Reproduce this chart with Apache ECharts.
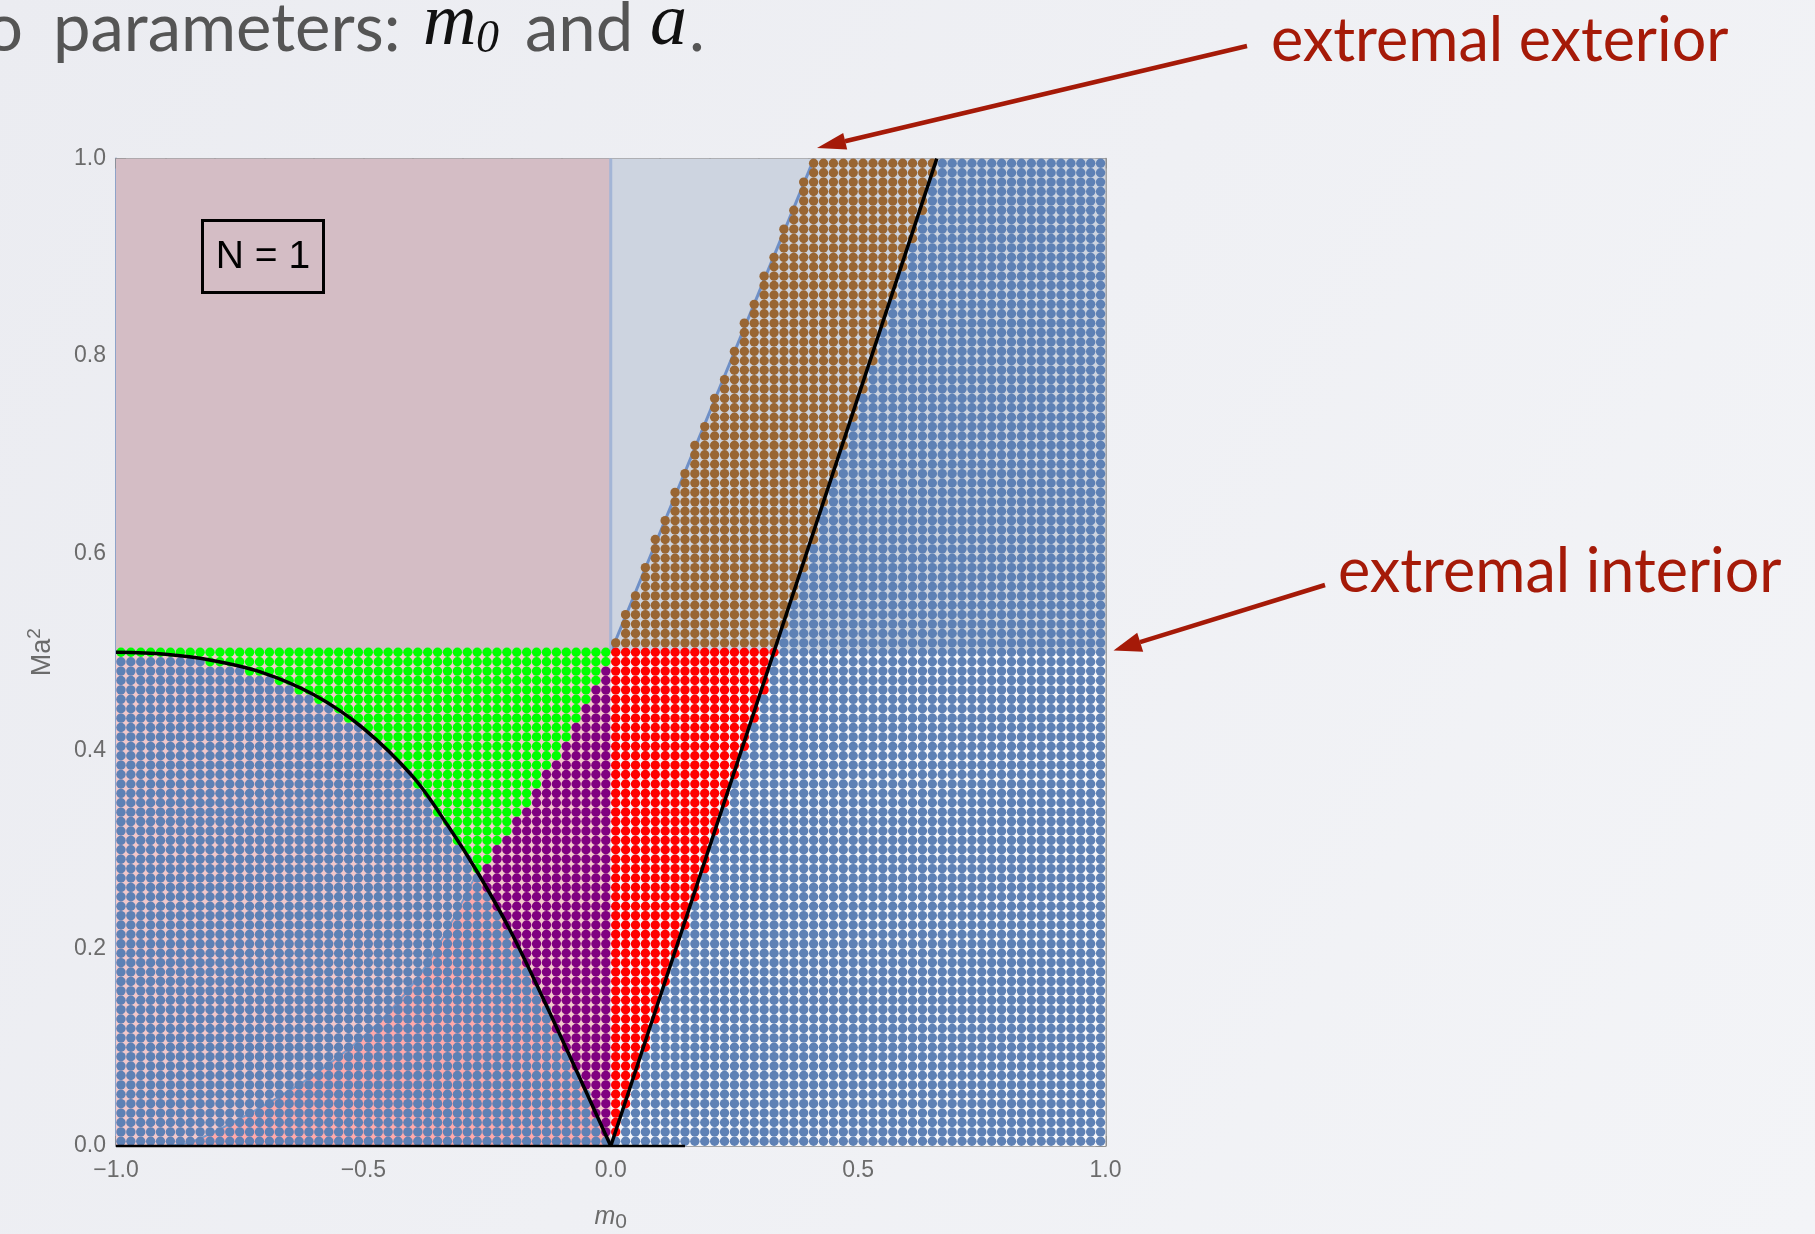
<!DOCTYPE html>
<html>
<head>
<meta charset="utf-8">
<script src="https://cdn.jsdelivr.net/npm/echarts/dist/echarts.min.js"></script>
<style>
  html, body { margin: 0; padding: 0; }
  body { width: 1815px; height: 1234px; background: linear-gradient(120deg, #EBECF1 0%, #EFF0F4 50%, #F3F4F7 100%); overflow: hidden; }
  #chart { width: 1815px; height: 1234px; }
</style>
</head>
<body>
<div id="chart"></div>
<script>
// ---------- tick labels ----------
const xTickValues = [-1, -0.5, 0, 0.5, 1];
const xTickLabels = ['\u22121.0', '\u22120.5', '0.0', '0.5', '1.0'];
const yTickValues = [0, 0.2, 0.4, 0.6, 0.8, 1.0];
const yTickLabels = ['0.0', '0.2', '0.4', '0.6', '0.8', '1.0'];

// ---------- sampling grid (cell-centred) ----------
const nCols = 100;   // m0 samples over [-1, 1]
const nRows = 105;   // Ma^2 samples over [0, 1]

// ---------- boundaries ----------
// black curve on the left (m0, Ma^2)
const curveLeft = [[-1, 0.5], [-0.9, 0.498], [-0.808, 0.492], [-0.707, 0.48], [-0.6, 0.457], [-0.5, 0.423],
  [-0.4, 0.374], [-0.33, 0.325], [-0.269, 0.277], [-0.205, 0.22], [-0.14, 0.153],
  [-0.07, 0.077], [0, 0]];
// black straight line on the right
const lineRight = [[0, 0], [0.659, 1.0]];
// light-blue edge of the empty wedge
const wedgeEdge = [[0, 0.5], [0.411, 1.0]];
// green / purple staircase edge
const purpleEdge = [[-0.27, 0.273], [-0.195, 0.325], [-0.115, 0.39], [0, 0.5]];
// edge of the salmon shading, lower left
const salmonEdge = [[-0.9, 0], [-0.848, 0.004], [-0.741, 0.03], [-0.606, 0.07], [-0.471, 0.124], [-0.37, 0.185], [-0.276, 0.271]];
// short dark segment on the bottom frame
const baseSegment = [[-1, 0], [0.15, 0]];
const zeroEdge = [[0, 0.5], [0, 1]];

// ---------- helpers ----------
function interp(pts, v, byIdx, outIdx) {
  const s = pts.slice().sort((a, b) => a[byIdx] - b[byIdx]);
  if (v <= s[0][byIdx]) return s[0][outIdx];
  if (v >= s[s.length - 1][byIdx]) return s[s.length - 1][outIdx];
  for (let i = 0; i < s.length - 1; i++) {
    const a = s[i], b = s[i + 1];
    if (v >= a[byIdx] && v <= b[byIdx]) {
      const t = (v - a[byIdx]) / (b[byIdx] - a[byIdx] || 1);
      return a[outIdx] + t * (b[outIdx] - a[outIdx]);
    }
  }
  return s[0][outIdx];
}
const curveY = x => interp(curveLeft, x, 0, 1);
const rightX = y => interp(lineRight, y, 1, 0);
const wedgeX = y => interp(wedgeEdge, y, 1, 0);
const purpleX = y => (y < purpleEdge[0][1] ? -Infinity : interp(purpleEdge, y, 1, 0));

const blueDots = [], greenDots = [], purpleDots = [], redDots = [], brownDots = [];
for (let j = 0; j < nCols; j++) {
  const x = +(-1 + (j + 0.5) * (2 / nCols)).toFixed(4);
  for (let k = 0; k < nRows; k++) {
    const y = +((k + 0.5) / nRows).toFixed(5);
    if (x < 0) {
      if (y > 0.5 + 1e-9) continue;
      if (y < curveY(x) - 0.002) blueDots.push([x, y]);
      else if (y < 0.5 - 1e-9 && x >= purpleX(y)) purpleDots.push([x, y]);
      else greenDots.push([x, y]);
    } else {
      if (y <= 0.5 + 1e-9) {
        if (x <= rightX(y) + 0.006) redDots.push([x, y]);
        else blueDots.push([x, y]);
      } else {
        if (x < wedgeX(y) - 0.004) continue;
        if (x <= rightX(y) + 0.006) brownDots.push([x, y]);
        else blueDots.push([x, y]);
      }
    }
  }
}

// ---------- background shading regions ----------
const regionUpperLeft = [[-1, 0.5], [0, 0.5], [0, 1], [-1, 1]];
const regionUpperRight = [[0, 0.5], [1, 0.5], [1, 1], [0, 1]];
const regionLowerLeft = [[-1, 0], [0, 0], [0, 0.5], [-1, 0.5]];
const regionLowerRight = [[0, 0], [1, 0], [1, 0.5], [0, 0.5]];
const regionSalmon = salmonEdge.concat(curveLeft.filter(p => p[0] > -0.272));

function polySeries(pts, color, z) {
  return {
    type: 'custom', silent: true, z: z, clip: true, animation: false,
    data: [[0, 0]],
    renderItem: (params, api) => ({
      type: 'polygon',
      shape: { points: pts.map(p => api.coord(p)) },
      style: { fill: color }
    })
  };
}
function lineSeries(data, color, width, z, smooth, clip) {
  return {
    type: 'line', data: data, z: z, silent: true, showSymbol: false, symbol: 'none',
    smooth: smooth || false, clip: clip !== false, animation: false,
    lineStyle: { color: color, width: width }
  };
}
function dotSeries(data, color) {
  return {
    type: 'scatter', data: data, z: 3, silent: true, symbol: 'circle', symbolSize: 9.4,
    itemStyle: { color: color, opacity: 1 }, progressive: 0, animation: false
  };
}

const frameColor = '#8a8a8a';
const labelFont = 'Liberation Sans';
function axisCommon(pos) {
  return {
    axisLine: { show: true, onZero: false, lineStyle: { color: frameColor, width: 1.5 } },
    axisTick: { show: true, inside: true, length: 10, lineStyle: { color: frameColor, width: 1.5 } },
    minorTick: { show: true, length: 5, lineStyle: { color: frameColor, width: 1.5 } },
    splitLine: { show: false },
    position: pos
  };
}

const chart = echarts.init(document.getElementById('chart'), null, { renderer: 'canvas' });
const option = {
  backgroundColor: 'transparent',
  animation: false,
  grid: { left: 116, right: 709.5, top: 158.6, bottom: 88, containLabel: false, outerBoundsMode: 'none' },
  xAxis: [
    Object.assign(axisCommon('bottom'), {
      type: 'value', min: -1, max: 1, interval: 0.5,
      minorTick: { show: true, splitNumber: 5, length: 5, lineStyle: { color: frameColor, width: 1.5 } },
      axisLabel: {
        color: '#6b6b6b', fontSize: 23, fontFamily: labelFont, margin: 13,
        formatter: v => { const i = xTickValues.findIndex(t => Math.abs(t - v) < 1e-9); return i >= 0 ? xTickLabels[i] : ''; }
      },
      name: '{m|m}{s|0}', nameLocation: 'middle', nameGap: 56,
      nameTextStyle: {
        rich: {
          m: { fontSize: 25, fontStyle: 'italic', fontFamily: labelFont, color: '#6b6b6b' },
          s: { fontSize: 21, fontFamily: labelFont, color: '#6b6b6b', padding: [10, 0, 0, 0] }
        }
      }
    }),
    Object.assign(axisCommon('top'), {
      type: 'value', min: -1, max: 1, interval: 0.5,
      minorTick: { show: true, splitNumber: 5, length: 5, lineStyle: { color: frameColor, width: 1.5 } },
      axisLabel: { show: false }
    })
  ],
  yAxis: [
    Object.assign(axisCommon('left'), {
      type: 'value', min: 0, max: 1, interval: 0.2,
      axisLine: { show: true, onZero: false, lineStyle: { color: '#8EA3C9', width: 2 } },
      minorTick: { show: true, splitNumber: 4, length: 5, lineStyle: { color: frameColor, width: 1.5 } },
      axisLabel: {
        color: '#6b6b6b', fontSize: 23, fontFamily: labelFont, margin: 10,
        formatter: v => { const i = yTickValues.findIndex(t => Math.abs(t - v) < 1e-9); return i >= 0 ? yTickLabels[i] : ''; }
      },
      name: '{a|Ma}{b|2}', nameLocation: 'middle', nameRotate: 90, nameGap: 56,
      nameTextStyle: {
        rich: {
          a: { fontSize: 27, fontFamily: labelFont, color: '#6b6b6b' },
          b: { fontSize: 19, fontFamily: labelFont, color: '#6b6b6b', padding: [0, 0, 16, 0] }
        }
      }
    }),
    Object.assign(axisCommon('right'), {
      type: 'value', min: 0, max: 1, interval: 0.2,
      minorTick: { show: true, splitNumber: 4, length: 5, lineStyle: { color: frameColor, width: 1.5 } },
      axisLabel: { show: false }
    })
  ],
  series: [
    polySeries(regionUpperLeft, '#D4BDC5', 1),
    polySeries(regionUpperRight, '#CDD4E0', 1),
    polySeries(regionLowerLeft, '#F2C8CB', 1),
    polySeries(regionLowerRight, '#F5F6FA', 1),
    polySeries(regionSalmon, '#FFA9AA', 1),
    lineSeries(salmonEdge, '#7F9DCC', 2, 2, 0.3),
    lineSeries(wedgeEdge, '#6E8FC6', 3, 2),
    lineSeries(zeroEdge, '#A3B5D6', 3, 2),
    dotSeries(blueDots, '#5E81B5'),
    dotSeries(greenDots, '#00FF00'),
    dotSeries(purpleDots, '#800080'),
    dotSeries(redDots, '#FF0000'),
    dotSeries(brownDots, '#996633'),
    lineSeries(curveLeft, '#000000', 3.5, 5, 0.35),
    lineSeries(lineRight, '#000000', 3.5, 5),
    lineSeries(baseSegment, '#000000', 2.5, 6, false, false)
  ],
  graphic: [
    // N = 1 label box
    { type: 'rect', shape: { x: 202.5, y: 220.5, width: 121, height: 72 }, style: { fill: 'none', stroke: '#000', lineWidth: 3 }, z: 100 },
    { type: 'text', x: 263, y: 257, style: { text: 'N = 1', font: '39px "Liberation Sans"', fill: '#000', align: 'center', verticalAlign: 'middle' }, z: 100 },
    // slide title fragment
    { type: 'text', x: -15, y: 29, style: { text: 'o', font: '67px Lato', fill: '#555555', verticalAlign: 'middle' } },
    { type: 'text', x: 53, y: 29, style: { text: 'parameters:', font: '67px Lato', fill: '#555555', verticalAlign: 'middle' } },
    { type: 'text', x: 423, y: 25, style: { text: 'm', font: 'italic 74px "Liberation Serif"', fill: '#111111', verticalAlign: 'middle' } },
    { type: 'text', x: 476, y: 40, style: { text: '0', font: 'italic 46px "Liberation Serif"', fill: '#111111', verticalAlign: 'middle' } },
    { type: 'text', x: 525, y: 29, style: { text: 'and', font: '67px Lato', fill: '#555555', verticalAlign: 'middle' } },
    { type: 'text', x: 650, y: 25, style: { text: 'a', font: 'italic 74px "Liberation Serif"', fill: '#111111', verticalAlign: 'middle' } },
    { type: 'text', x: 689, y: 29, style: { text: '.', font: '67px Lato', fill: '#555555', verticalAlign: 'middle' } },
    // annotations
    { type: 'text', x: 1271, y: 41, style: { text: 'extremal exterior', font: '61px Lato', fill: '#A51A08', verticalAlign: 'middle' } },
    { type: 'text', x: 1338, y: 572, style: { text: 'extremal interior', font: '61px Lato', fill: '#A51A08', verticalAlign: 'middle' } },
    { type: 'line', shape: { x1: 1247, y1: 46, x2: 845, y2: 141.3 }, style: { stroke: '#A51A08', lineWidth: 4.5 } },
    { type: 'polygon', shape: { points: [[817, 148], [847.2, 149.6], [843.2, 133.0]] }, style: { fill: '#A51A08' } },
    { type: 'line', shape: { x1: 1325, y1: 585, x2: 1140, y2: 642.2 }, style: { stroke: '#A51A08', lineWidth: 4.5 } },
    { type: 'polygon', shape: { points: [[1113.5, 650.5], [1143.2, 651.7], [1137.2, 632.7]] }, style: { fill: '#A51A08' } }
  ]
};
chart.setOption(option);
</script>
</body>
</html>
